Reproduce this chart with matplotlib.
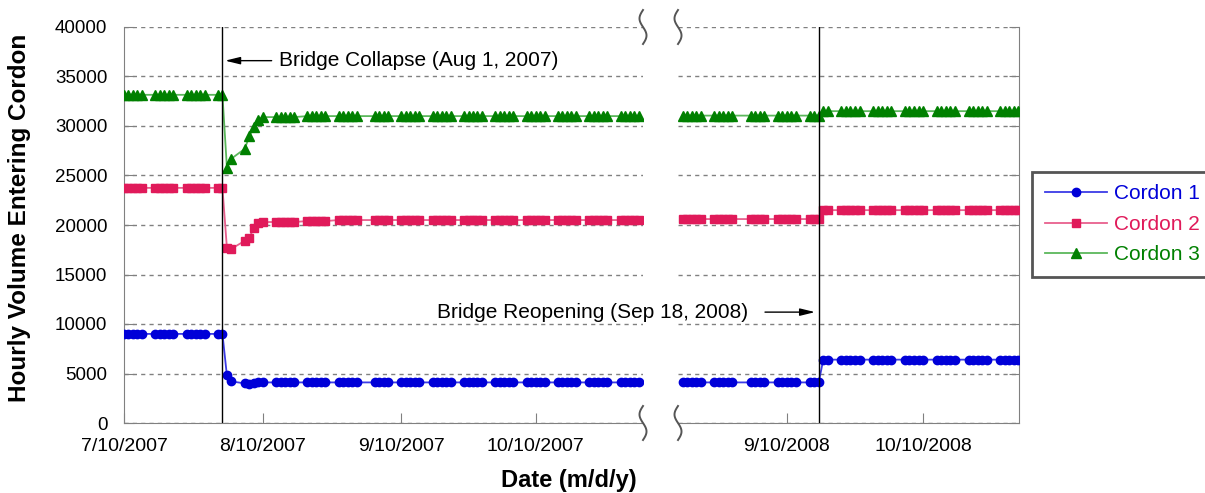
import matplotlib
matplotlib.use("Agg")
import matplotlib.pyplot as plt
import matplotlib.dates as mdates
from matplotlib.lines import Line2D
import numpy as np
import pandas as pd
import datetime as dt

plt.rcParams['font.family'] = ['Liberation Sans', 'DejaVu Sans']

## ## data
## 2007 panel: before collapse the counts sit on Tue-Sat, after it on weekdays (Labor Day left out)
dates_2007_pre = pd.to_datetime(["2007-07-10", "2007-07-11", "2007-07-12", "2007-07-13", "2007-07-14",
                                 "2007-07-17", "2007-07-18", "2007-07-19", "2007-07-20", "2007-07-21",
                                 "2007-07-24", "2007-07-25", "2007-07-26", "2007-07-27", "2007-07-28",
                                 "2007-07-31", "2007-08-01"])
dates_2007_post = pd.bdate_range("2007-08-02", "2007-11-02").drop(pd.Timestamp("2007-09-03"))
dates_2007 = dates_2007_pre.append(dates_2007_post)

## 2008 panel: weekdays, Labor Day left out
dates_2008 = pd.bdate_range("2008-08-18", "2008-10-31").drop(pd.Timestamp("2008-09-01"))

n_pre07 = len(dates_2007_pre)
n_tail07 = len(dates_2007_post) - 7
n_pre08 = len([d for d in dates_2008 if d <= pd.Timestamp("2008-09-17")])
n_post08 = len(dates_2008) - n_pre08

cordon1_2007 = [9000] * n_pre07 + [4800, 4200, 4000, 3900, 4000, 4100, 4100] + [4100] * n_tail07
cordon2_2007 = [23750] * n_pre07 + [17700, 17600, 18400, 18700, 19700, 20200, 20300] + [20300] * 5 + [20400] * 5 + [20500] * (n_tail07 - 10)
cordon3_2007 = [33150] * n_pre07 + [25800, 26700, 27700, 28950, 29900, 30600, 30900] + [30900] * 5 + [31000] * (n_tail07 - 5)

cordon1_2008 = [4100] * n_pre08 + [6400] * n_post08
cordon2_2008 = [20600] * n_pre08 + [21500] * n_post08
cordon3_2008 = [31050] * n_pre08 + [31500] * n_post08

series_names = ["Cordon 1", "Cordon 2", "Cordon 3"]
marker_colors = ["#0000d8", "#e01a5a", "#008000"]
line_colors = ["#3c3ce6", "#e8608e", "#5cb85c"]
markers = ["o", "s", "^"]
marker_sizes = [6, 6, 7]

ticks_2007 = [dt.datetime(2007, 7, 10), dt.datetime(2007, 8, 10), dt.datetime(2007, 9, 10), dt.datetime(2007, 10, 10)]
tick_labels_2007 = ["7/10/2007", "8/10/2007", "9/10/2007", "10/10/2007"]
ticks_2008 = [dt.datetime(2008, 9, 10), dt.datetime(2008, 10, 10)]
tick_labels_2008 = ["9/10/2008", "10/10/2008"]

collapse_date = dt.datetime(2007, 8, 1)
reopen_date = dt.datetime(2008, 9, 17)

## ## figure
W, H = 1205, 493
fig = plt.figure(figsize=(W / 100, H / 100), dpi=100)
ax1 = fig.add_axes([124 / W, 70 / H, (643 - 124) / W, 396 / H])
ax2 = fig.add_axes([678 / W, 70 / H, (1019 - 678) / W, 396 / H], sharey=ax1)

grey = "#808080"

series_2007 = [cordon1_2007, cordon2_2007, cordon3_2007]
series_2008 = [cordon1_2008, cordon2_2008, cordon3_2008]
for i in range(3):
    for ax, d, v in [(ax1, dates_2007, series_2007[i]), (ax2, dates_2008, series_2008[i])]:
        ax.plot(d, v, color=line_colors[i], lw=1.3, marker=markers[i], ms=marker_sizes[i],
                mfc=marker_colors[i], mec=marker_colors[i], label=series_names[i], zorder=3)

ax1.set_xlim(dt.datetime(2007, 7, 10), dt.datetime(2007, 11, 3))
ax2.set_xlim(dt.datetime(2008, 8, 17), dt.datetime(2008, 10, 31, 3))
ax1.set_ylim(0, 40000)
ax1.set_yticks(np.arange(0, 40001, 5000))

for ax in (ax1, ax2):
    ax.yaxis.grid(True, linestyle=(0, (3, 3)), color=grey, lw=1)
    ax.set_axisbelow(True)
    ax.spines['top'].set_visible(False)
    ax.spines['bottom'].set_color(grey)
    ax.tick_params(axis='x', direction='in', length=7, color=grey, labelsize=14, pad=11)
    ax.tick_params(axis='y', direction='in', length=7, color=grey, labelsize=13.5)

ax1.spines['right'].set_visible(False)
ax1.spines['left'].set_color(grey)
ax1.tick_params(axis='y', pad=12)
ax2.spines['left'].set_visible(False)
ax2.spines['right'].set_color(grey)
ax2.yaxis.tick_right()
ax2.tick_params(axis='y', labelright=False, labelleft=False)

ax1.set_xticks(ticks_2007)
ax1.set_xticklabels(tick_labels_2007)
ax2.set_xticks(ticks_2008)
ax2.set_xticklabels(tick_labels_2008)

## event lines
ax1.axvline(collapse_date, color="black", lw=1, zorder=4)
ax2.axvline(reopen_date, color="black", lw=1, zorder=4)

arrow = dict(arrowstyle="-|>,head_length=0.9,head_width=0.22", color="black", lw=1, shrinkA=0, shrinkB=0)
ax1.annotate("", xy=(collapse_date + dt.timedelta(days=0.6), 36600),
             xytext=(dt.datetime(2007, 8, 12), 36600), arrowprops=arrow)
ax1.text(dt.datetime(2007, 8, 13, 18), 36600, "Bridge Collapse (Aug 1, 2007)",
         ha="left", va="center", fontsize=15)
ax2.annotate("", xy=(reopen_date - dt.timedelta(days=0.8), 11200),
             xytext=(dt.datetime(2008, 9, 5, 4), 11200), arrowprops=arrow)
ax2.text(dt.datetime(2008, 9, 1, 10), 11200, "Bridge Reopening (Sep 18, 2008)",
         ha="right", va="center", fontsize=15, clip_on=False)

## axis break marks (S-shaped)
t = np.linspace(0, 1, 60)
for xb in (643, 678):
    for yb in (27, 423):
        xs = (xb - 3.5 * np.sin(2 * np.pi * t)) / W
        ys = (H - (yb - 17 + 34 * t)) / H
        fig.add_artist(Line2D(xs, ys, color="#555555", lw=1.4))

## labels
fig.text(569 / W, 1 - 481 / H, "Date (m/d/y)", ha="center", va="center",
         fontsize=17, fontweight="bold")
fig.text(20 / W, 1 - 218 / H, "Hourly Volume Entering Cordon", ha="center", va="center",
         rotation=90, fontsize=17.5, fontweight="bold")

handles, labels = ax1.get_legend_handles_labels()
leg = fig.legend(handles, labels, loc="upper left", bbox_to_anchor=(1032 / W, 1 - 172 / H),
                 fontsize=15, handlelength=3.0, handletextpad=0.35, labelspacing=0.55,
                 borderpad=0.6, borderaxespad=0, fancybox=False, framealpha=1)
leg.get_frame().set_edgecolor("#555555")
leg.get_frame().set_linewidth(2)
for txt, c in zip(leg.get_texts(), marker_colors):
    txt.set_color(c)

plt.savefig("out.png", dpi=100)
